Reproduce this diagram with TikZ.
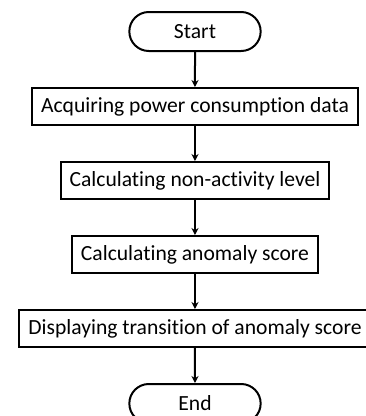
\documentclass[tikz,border=0pt]{standalone}
\usepackage{fontspec}
\setmainfont[Ligatures=NoCommon]{Carlito}
\usetikzlibrary{positioning,chains,shapes.misc,arrows.meta}
\tikzset{
    >={Stealth[length=7pt,width=7pt]},
    procbox/.style={
        rectangle,
        draw=black, line width=2pt,
        inner xsep=9pt,
        minimum height=37pt,
        font=\fontsize{21.6}{26}\selectfont,
        on chain
    },
    termbox/.style={
        rounded rectangle,
        draw=black, line width=2pt,
        minimum width=138pt,
        minimum height=39pt,
        font=\fontsize{21.6}{26}\selectfont,
        on chain
    },
    flow/.style={draw, line width=2pt, ->}
}
\begin{document}
\begin{tikzpicture}[x=1pt, y=1pt, start chain=going below, node distance=35pt]
    \useasboundingbox (-195,31.5) rectangle (171,-384.5);
    \node[termbox] (start) {Start};
    \node[procbox] (acquire) {Acquiring power consumption data};
    \node[procbox] (nonact) {Calculating non-activity level};
    \node[procbox] (score) {Calculating anomaly score};
    \node[procbox] (display) {Displaying transition of anomaly score};
    \node[termbox] (end) {End};
    % arrows between steps
    \draw[flow] (start) -- (acquire);
    \draw[flow] (acquire) -- (nonact);
    \draw[flow] (nonact) -- (score);
    \draw[flow] (score) -- (display);
    \draw[flow] (display) -- (end);
\end{tikzpicture}
\end{document}
